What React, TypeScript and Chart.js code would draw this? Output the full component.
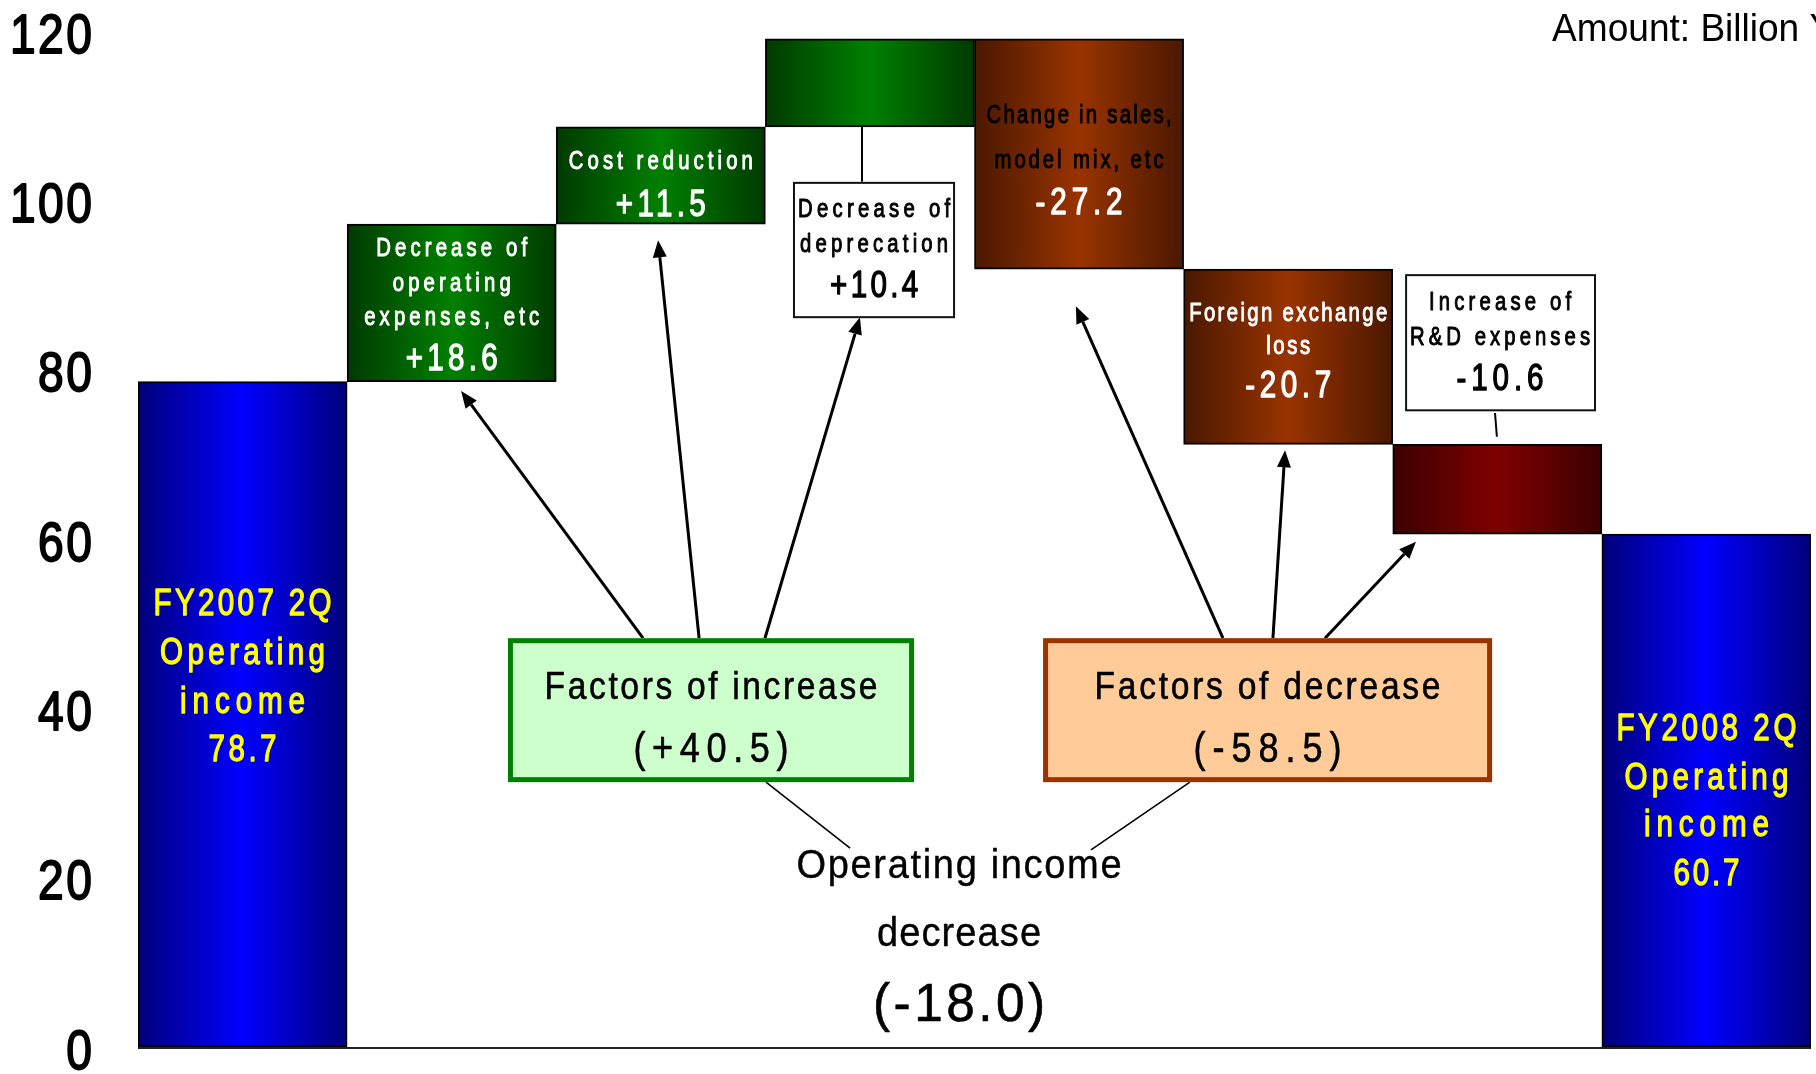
import { useEffect, useRef } from 'react';
import { Chart, registerables } from 'chart.js';

Chart.register(...registerables);

// ---------- data ----------
const categories = [
  'FY2007 2Q Operating income',
  'Decrease of operating expenses, etc',
  'Cost reduction',
  'Decrease of deprecation',
  'Change in sales, model mix, etc',
  'Foreign exchange loss',
  'Increase of R&D expenses',
  'FY2008 2Q Operating income',
];
const openingValue = 78.7;
const factorDeltas = [18.6, 11.5, 10.4, -27.2, -20.7, -10.6];
const closingValue = 60.7;
const yTickValues = [0, 20, 40, 60, 80, 100, 120];
const increaseTotal = 40.5;
const decreaseTotal = -58.5;
const netChange = -18.0;
const unitLabel = 'Amount: Billion Yen';

const FONT = "'Liberation Sans', Arial, sans-serif";

const fmt = (v: number) => (v > 0 ? '+' : '-') + Math.abs(v).toFixed(1);

// floating ranges built from the data above
const ranges: [number, number][] = (() => {
  const out: [number, number][] = [[0, openingValue]];
  let run = openingValue;
  for (const d of factorDeltas) {
    const next = Math.round((run + d) * 10) / 10;
    out.push([run, next]);
    run = next;
  }
  out.push([0, closingValue]);
  return out;
})();

const barColors: [string, string][] = [
  ['#00007a', '#0000ff'],
  ['#003a00', '#008000'],
  ['#003a00', '#008000'],
  ['#003a00', '#008000'],
  ['#4a1800', '#993300'],
  ['#4a1800', '#993300'],
  ['#3c0000', '#800000'],
  ['#00007a', '#0000ff'],
];

const TEXT_DY = 2.5;

type TextOpts = {
  size: number;
  color?: string;
  weight?: string;
  width?: number;
  sx?: number;
  align?: 'center' | 'left' | 'right';
  ls?: number;
  stroke?: number;
};

function drawText(ctx: CanvasRenderingContext2D, s: string, x: number, y: number, o: TextOpts) {
  const { size, color = '#000', weight = 'normal', width, align = 'center', stroke = 0 } = o;
  let sx = o.sx ?? 0.84;
  ctx.save();
  ctx.font = `${weight} ${size}px ${FONT}`;
  (ctx as any).letterSpacing = '0px';
  const raw = ctx.measureText(s).width;
  const n = [...s].length;
  let ls = o.ls ?? 0;
  if (width && n > 1) {
    ls = (width / sx - raw) / (n - 1);
    if (ls < 0.5) {
      ls = 0.5;
      sx = width / (raw + ls * (n - 1));
    }
  }
  (ctx as any).letterSpacing = `${ls}px`;
  const total = (raw + ls * (n - 1)) * sx;
  let left = x - total / 2;
  if (align === 'left') left = x;
  if (align === 'right') left = x - total;
  ctx.translate(left, y + TEXT_DY);
  ctx.scale(sx, 1);
  ctx.fillStyle = color;
  ctx.textBaseline = 'middle';
  ctx.textAlign = 'left';
  ctx.fillText(s, 0, 0);
  if (stroke > 0) {
    ctx.strokeStyle = color;
    ctx.lineWidth = stroke;
    ctx.lineJoin = 'round';
    ctx.strokeText(s, 0, 0);
  }
  ctx.restore();
}

function arrow(ctx: CanvasRenderingContext2D, x0: number, y0: number, x1: number, y1: number) {
  const ang = Math.atan2(y1 - y0, x1 - x0);
  const hl = 17;
  const hw = 7;
  const bx = x1 - hl * Math.cos(ang);
  const by = y1 - hl * Math.sin(ang);
  ctx.save();
  ctx.strokeStyle = '#000';
  ctx.lineWidth = 3;
  ctx.beginPath();
  ctx.moveTo(x0, y0);
  ctx.lineTo(bx, by);
  ctx.stroke();
  ctx.fillStyle = '#000';
  ctx.beginPath();
  ctx.moveTo(x1, y1);
  ctx.lineTo(bx + hw * Math.sin(ang), by - hw * Math.cos(ang));
  ctx.lineTo(bx - hw * Math.sin(ang), by + hw * Math.cos(ang));
  ctx.closePath();
  ctx.fill();
  ctx.restore();
}

const annotationPlugin = {
  id: 'waterfallAnnotations',
  afterDraw(chart: any) {
    const ctx: CanvasRenderingContext2D = chart.ctx;
    const xs = chart.scales.x;
    const ys = chart.scales.y;
    const step = xs.getPixelForValue(1) - xs.getPixelForValue(0);
    const X = (c: number) => xs.getPixelForValue(0) + c * step;
    const Y = (v: number) => ys.getPixelForValue(v);

    // y tick labels
    for (const v of yTickValues) {
      drawText(ctx, String(v), chart.chartArea.left - 46, Y(v) + 3, { size: 55, sx: 0.84, ls: 3, stroke: 1.8, align: 'right' });
    }

    // unit label
    drawText(ctx, unitLabel, X(6.262), Y(120.5), { size: 39, sx: 0.95, ls: 0, align: 'left' });

    const line = (c0: number, v0: number, c1: number, v1: number, w: number) => {
      ctx.save();
      ctx.strokeStyle = '#000';
      ctx.lineWidth = w;
      ctx.beginPath();
      ctx.moveTo(X(c0), Y(v0));
      ctx.lineTo(X(c1), Y(v1));
      ctx.stroke();
      ctx.restore();
    };

    // connectors to callout boxes
    line(2.962, ranges[3][0], 2.962, 102.3, 2);
    line(5.989, 75.0, 5.998, 72.2, 2);
    // thin lines to the net change label
    line(2.503, 31.4, 2.905, 23.6, 1.6);
    line(4.53, 31.4, 4.057, 23.4, 1.6);

    // arrows
    const arrows: [number, number, number, number][] = [
      [1.915, 48.4, 1.045, 77.6],
      [2.183, 48.4, 1.987, 95.4],
      [2.498, 48.4, 2.952, 86.3],
      [4.688, 48.4, 3.985, 87.6],
      [4.927, 48.4, 4.985, 70.6],
      [5.176, 48.4, 5.611, 59.8],
    ];
    for (const a of arrows) arrow(ctx, X(a[0]), Y(a[1]), X(a[2]), Y(a[3]));

    // boxes
    const box = (c0: number, c1: number, v0: number, v1: number, fill: string, stroke: string, lw: number) => {
      const x0 = X(c0), x1 = X(c1), y0 = Y(v0), y1 = Y(v1);
      ctx.save();
      ctx.fillStyle = fill;
      ctx.fillRect(x0, y0, x1 - x0, y1 - y0);
      ctx.strokeStyle = stroke;
      ctx.lineWidth = lw;
      ctx.strokeRect(x0 + lw / 2, y0 + lw / 2, x1 - x0 - lw, y1 - y0 - lw);
      ctx.restore();
    };
    box(2.632, 3.407, 102.3, 86.2, '#ffffff', '#111', 2);
    box(5.559, 6.472, 91.4, 75.2, '#ffffff', '#111', 2);
    box(1.269, 3.211, 48.4, 31.4, '#ccffcc', '#008000', 5);
    box(3.828, 5.975, 48.4, 31.4, '#ffcc99', '#993300', 5);

    const W = '#ffffff';
    const YEL = '#ffff00';
    const B = '#000000';
    const small: TextOpts = { size: 26, sx: 0.78, stroke: 1.0 };
    const big: TextOpts = { size: 37, sx: 0.8, stroke: 1.3 };
    // bar 0
    drawText(ctx, 'FY2007 2Q', X(0), Y(52.6), { ...big, color: YEL, width: 178 });
    drawText(ctx, 'Operating', X(0), Y(46.8), { ...big, color: YEL, width: 165 });
    drawText(ctx, 'income', X(0), Y(41.1), { ...big, color: YEL, width: 125 });
    drawText(ctx, openingValue.toFixed(1), X(0), Y(35.4), { ...big, color: YEL, width: 68 });
    // bar 1
    drawText(ctx, 'Decrease of', X(1), Y(94.7), { ...small, color: W, width: 151 });
    drawText(ctx, 'operating', X(1), Y(90.6), { ...small, color: W, width: 118 });
    drawText(ctx, 'expenses, etc', X(1), Y(86.5), { ...small, color: W, width: 175 });
    drawText(ctx, fmt(factorDeltas[0]), X(1), Y(81.6), { ...big, color: W, width: 92 });
    // bar 2
    drawText(ctx, 'Cost reduction', X(2), Y(105.0), { ...small, color: W, width: 184 });
    drawText(ctx, fmt(factorDeltas[1]), X(2), Y(99.8), { ...big, color: W, width: 90 });
    // callout for bar 3
    drawText(ctx, 'Decrease of', X(3.02), Y(99.3), { ...small, color: B, width: 152 });
    drawText(ctx, 'deprecation', X(3.02), Y(95.1), { ...small, color: B, width: 148 });
    drawText(ctx, fmt(factorDeltas[2]), X(3.02), Y(90.2), { ...big, color: B, width: 88 });
    // bar 4
    drawText(ctx, 'Change in sales,', X(4), Y(110.4), { ...small, color: B, width: 185 });
    drawText(ctx, 'model mix, etc', X(4), Y(105.1), { ...small, color: B, width: 169 });
    drawText(ctx, fmt(factorDeltas[3]), X(4), Y(100.0), { ...big, color: W, width: 87 });
    // bar 5
    drawText(ctx, 'Foreign exchange', X(5), Y(87.0), { ...small, color: W, width: 198 });
    drawText(ctx, 'loss', X(5), Y(83.1), { ...small, color: W, width: 44 });
    drawText(ctx, fmt(factorDeltas[4]), X(5), Y(78.4), { ...big, color: W, width: 86 });
    // callout for bar 6
    drawText(ctx, 'Increase of', X(6.013), Y(88.3), { ...small, color: B, width: 142 });
    drawText(ctx, 'R&D expenses', X(6.013), Y(84.2), { ...small, color: B, width: 180 });
    drawText(ctx, fmt(factorDeltas[5]), X(6.013), Y(79.2), { ...big, color: B, width: 87 });
    // bar 7
    drawText(ctx, 'FY2008 2Q', X(7), Y(37.9), { ...big, color: YEL, width: 180 });
    drawText(ctx, 'Operating', X(7), Y(32.1), { ...big, color: YEL, width: 164 });
    drawText(ctx, 'income', X(7), Y(26.5), { ...big, color: YEL, width: 125 });
    drawText(ctx, closingValue.toFixed(1), X(7), Y(20.8), { ...big, color: YEL, width: 66 });

    // factor boxes
    const factor: TextOpts = { size: 39, sx: 0.86, stroke: 0.6, color: B };
    drawText(ctx, 'Factors of increase', X(2.24), Y(42.75), { ...factor, width: 333 });
    drawText(ctx, `(${fmt(increaseTotal)})`, X(2.24), Y(35.4), { ...factor, size: 42, width: 155 });
    drawText(ctx, 'Factors of decrease', X(4.901), Y(42.75), { ...factor, width: 346 });
    drawText(ctx, `(${fmt(decreaseTotal)})`, X(4.901), Y(35.4), { ...factor, size: 42, width: 148 });

    // net change
    drawText(ctx, 'Operating income', X(3.426), Y(21.7), { size: 40, sx: 0.95, stroke: 0.4, color: B, width: 325 });
    drawText(ctx, 'decrease', X(3.426), Y(13.6), { size: 40, sx: 0.95, stroke: 0.4, color: B, width: 164 });
    drawText(ctx, `(${fmt(netChange)})`, X(3.426), Y(5.3), { size: 54, sx: 0.95, stroke: 0.6, color: B, width: 172 });
  },
};

export default function App() {
  const ref = useRef<HTMLCanvasElement | null>(null);
  useEffect(() => {
    if (!ref.current) return;
    const chart = new Chart(ref.current, {
      type: 'bar',
      data: {
        labels: categories,
        datasets: [
          {
            data: ranges as any,
            backgroundColor: (c: any) => {
              const chart = c.chart;
              const xs = chart.scales?.x;
              const i = c.dataIndex ?? 0;
              const [dark, bright] = barColors[i] || barColors[0];
              if (!xs || !chart.chartArea) return bright;
              const center = xs.getPixelForValue(i);
              const half = (xs.getPixelForValue(1) - xs.getPixelForValue(0)) / 2;
              if (!isFinite(center) || !isFinite(half) || half <= 0) return bright;
              const g = chart.ctx.createLinearGradient(center - half, 0, center + half, 0);
              g.addColorStop(0, dark);
              g.addColorStop(0.5, bright);
              g.addColorStop(1, dark);
              return g;
            },
            borderColor: '#000000',
            borderWidth: 2,
            borderSkipped: false,
            barPercentage: 1,
            categoryPercentage: 1,
          },
        ],
      },
      options: {
        animation: false,
        responsive: false,
        maintainAspectRatio: false,
        devicePixelRatio: 1,
        layout: { padding: { left: 0, right: 5, top: 32, bottom: 26 } },
        plugins: { legend: { display: false }, tooltip: { enabled: false } },
        scales: {
          x: { type: 'category', display: false },
          y: {
            min: 0,
            max: 120,
            ticks: { stepSize: 20, display: false },
            border: { display: false },
            grid: {
              drawTicks: false,
              lineWidth: 2,
              color: (c: any) => (c.tick && c.tick.value === 0 ? '#222222' : 'rgba(0,0,0,0)'),
            },
            afterFit: (s: any) => {
              s.width = 138;
            },
          },
        },
      },
      plugins: [annotationPlugin],
    });
    return () => chart.destroy();
  }, []);
  return (
    <div style={{ position: 'absolute', left: 0, top: 0, width: 1816, height: 1074, background: '#fff' }}>
      <canvas ref={ref} width={1816} height={1074} style={{ display: 'block', width: 1816, height: 1074 }} />
    </div>
  );
}
